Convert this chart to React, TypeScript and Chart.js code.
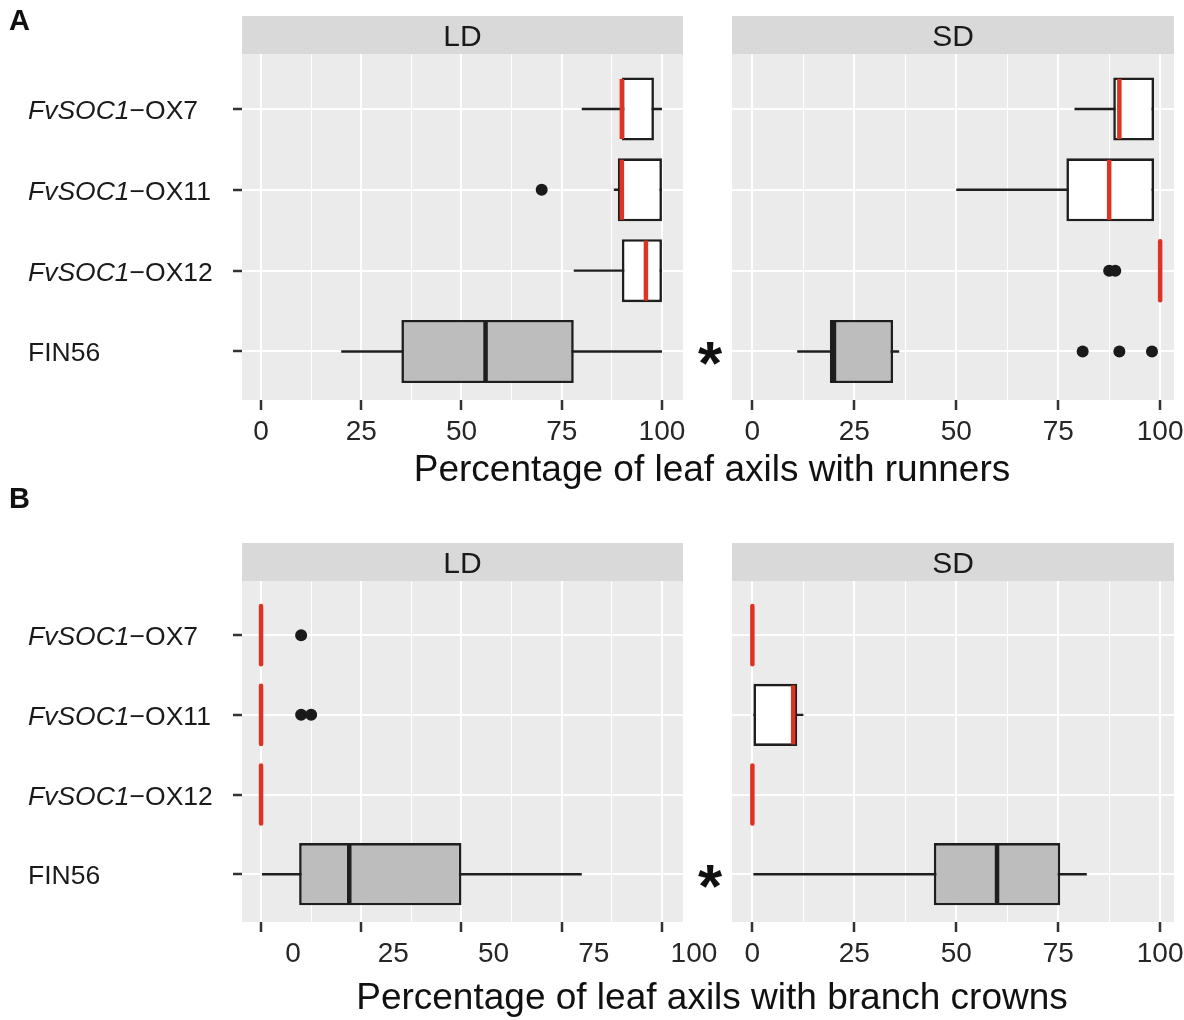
import React, { useEffect, useRef } from 'react';
import { Chart, registerables } from 'chart.js';

Chart.register(...registerables);

// ---------------- data ----------------
const categories = ['FvSOC1-OX7', 'FvSOC1-OX11', 'FvSOC1-OX12', 'FIN56'];
const isTransgenic = [true, true, true, false];
const xTickValues = [0, 25, 50, 75, 100];
const xMinorTickValues = [12.5, 37.5, 62.5, 87.5];
const panelLetters = ['A', 'B'];
const axisTitles = [
  'Percentage of leaf axils with runners',
  'Percentage of leaf axils with branch crowns',
];
const significanceMarks = ['', '', '', '*'];

// Runners, LD
const runnersLDMin = [80, 88, 78, 20];
const runnersLDQ1 = [90, 89, 90, 35];
const runnersLDMedian = [90, 90, 96, 56];
const runnersLDQ3 = [98, 100, 100, 78];
const runnersLDMax = [100, 100, 100, 100];
const runnersLDOutliers = [[], [70], [], []];
// Runners, SD
const runnersSDMin = [79, 50, 100, 11];
const runnersSDQ1 = [88.5, 77, 100, 19];
const runnersSDMedian = [90, 87.5, 100, 20];
const runnersSDQ3 = [98.5, 98.5, 100, 34.5];
const runnersSDMax = [98.5, 98.5, 100, 36];
const runnersSDOutliers = [[], [], [87.5, 89], [81, 90, 98]];
// Branch crowns, LD
const crownsLDMin = [0, 0, 0, 0];
const crownsLDQ1 = [0, 0, 0, 9.5];
const crownsLDMedian = [0, 0, 0, 22];
const crownsLDQ3 = [0, 0, 0, 50];
const crownsLDMax = [0, 0, 0, 80];
const crownsLDOutliers = [[10], [10, 12.5], [], []];
// Branch crowns, SD
const crownsSDMin = [0, 0, 0, 0];
const crownsSDQ1 = [0, 0, 0, 44.5];
const crownsSDMedian = [0, 10, 0, 60];
const crownsSDQ3 = [0, 11, 0, 75.5];
const crownsSDMax = [0, 12.5, 0, 82];
const crownsSDOutliers = [[], [], [], []];

// ---------------- layout / style ----------------
const W = 1184;
const H = 1020;
const FONT = '"Liberation Sans", Arial, Helvetica, sans-serif';
const FACET_X: Record<string, [number, number]> = { LD: [242, 683], SD: [732, 1174] };
const X_RANGE: Record<string, [number, number]> = { LD: [-4.75, 105.25], SD: [-5, 103.4] };
const ROWS = [
  { stripTop: 16, top: 54, bottom: 400, letterY: 30, titleY: 481 },
  { stripTop: 543, top: 581, bottom: 922, letterY: 508, titleY: 1009 },
];
const TITLE_X = 712;
const BOX_WIDTH = 0.78;
const X_AXIS_H = 60;
const allXTicks = [...xTickValues, ...xMinorTickValues].sort((a, b) => a - b);
const isMajor = (v: any) => xTickValues.includes(v);

type Panel = {
  row: number;
  facet: 'LD' | 'SD';
  min: number[];
  q1: number[];
  median: number[];
  q3: number[];
  max: number[];
  outliers: number[][];
  labelOffset: number;
};

const PANELS: Panel[] = [
  { row: 0, facet: 'LD', min: runnersLDMin, q1: runnersLDQ1, median: runnersLDMedian, q3: runnersLDQ3, max: runnersLDMax, outliers: runnersLDOutliers, labelOffset: 0 },
  { row: 0, facet: 'SD', min: runnersSDMin, q1: runnersSDQ1, median: runnersSDMedian, q3: runnersSDQ3, max: runnersSDMax, outliers: runnersSDOutliers, labelOffset: 0 },
  { row: 1, facet: 'LD', min: crownsLDMin, q1: crownsLDQ1, median: crownsLDMedian, q3: crownsLDQ3, max: crownsLDMax, outliers: crownsLDOutliers, labelOffset: 32 },
  { row: 1, facet: 'SD', min: crownsSDMin, q1: crownsSDQ1, median: crownsSDMedian, q3: crownsSDQ3, max: crownsSDMax, outliers: crownsSDOutliers, labelOffset: 0 },
];

function buildConfig(p: Panel): any {
  const r = ROWS[p.row];
  const [left, right] = FACET_X[p.facet];
  const isLD = p.facet === 'LD';
  const yAxisW = isLD ? 12 : 0;
  const rowIdx = categories.map((_, i) => i);

  const panelPlugin = {
    id: 'ggPanel',
    beforeDraw(chart: any) {
      const { ctx, chartArea: a } = chart;
      ctx.save();
      ctx.fillStyle = '#EBEBEB';
      ctx.fillRect(a.left, a.top, a.right - a.left, a.bottom - a.top);
      ctx.restore();
    },
    afterDatasetsDraw(chart: any) {
      const { ctx, scales } = chart;
      const x = scales.x;
      const y = scales.y;
      const unit = Math.abs(y.getPixelForValue(1) - y.getPixelForValue(0));
      const half = (unit * BOX_WIDTH) / 2;
      rowIdx.forEach((i) => {
        const px = x.getPixelForValue(p.median[i]);
        const py = y.getPixelForValue(i);
        const collapsed = p.q1[i] === p.q3[i];
        ctx.save();
        ctx.strokeStyle = isTransgenic[i] ? '#DD3322' : '#1E1E1E';
        ctx.lineWidth = 4.5;
        ctx.lineCap = collapsed ? 'round' : 'butt';
        const inset = collapsed ? 2 : 1.5;
        ctx.beginPath();
        ctx.moveTo(px, py - half + inset);
        ctx.lineTo(px, py + half - inset);
        ctx.stroke();
        ctx.restore();
      });
    },
    afterDraw(chart: any) {
      const { ctx, chartArea: a, scales } = chart;
      const y = scales.y;
      ctx.save();
      // facet strip
      ctx.fillStyle = '#D9D9D9';
      ctx.fillRect(a.left, r.stripTop, a.right - a.left, a.top - r.stripTop);
      ctx.fillStyle = '#1A1A1A';
      ctx.font = `30px ${FONT}`;
      ctx.textAlign = 'center';
      ctx.textBaseline = 'alphabetic';
      ctx.fillText(p.facet, (a.left + a.right) / 2, (r.stripTop + a.top) / 2 + 11);

      if (isLD) {
        // category labels (italic gene name)
        ctx.fillStyle = '#1A1A1A';
        ctx.textAlign = 'left';
        ctx.textBaseline = 'alphabetic';
        categories.forEach((lab, i) => {
          const yy = y.getPixelForValue(i) + 10;
          let xx = 28;
          const m = lab.match(/^(FvSOC1)-(.*)$/);
          if (m) {
            ctx.font = `italic 26.5px ${FONT}`;
            ctx.fillText(m[1], xx, yy);
            xx += ctx.measureText(m[1]).width;
            ctx.font = `26.5px ${FONT}`;
            ctx.fillText('\u2212' + m[2], xx, yy);
          } else {
            ctx.font = `26.5px ${FONT}`;
            ctx.fillText(lab, xx, yy);
          }
        });
        // x axis title, spanning both facets
        ctx.font = `37px ${FONT}`;
        ctx.textAlign = 'center';
        ctx.fillStyle = '#111';
        ctx.fillText(axisTitles[p.row], TITLE_X, r.titleY);
        // panel letter
        ctx.font = `bold 29px ${FONT}`;
        ctx.textAlign = 'left';
        ctx.fillText(panelLetters[p.row], 9, r.letterY);
      } else {
        // significance marks
        ctx.font = `bold 62px ${FONT}`;
        ctx.textAlign = 'center';
        ctx.fillStyle = '#111';
        significanceMarks.forEach((mk, i) => {
          if (!mk) return;
          ctx.fillText(mk, a.left - 22, y.getPixelForValue(i) + 33);
        });
      }
      ctx.restore();
    },
  };

  return {
    type: 'bar',
    data: {
      datasets: [
        {
          label: 'box',
          data: rowIdx.map((i) => ({ x: [p.q1[i], p.q3[i]], y: i })),
          backgroundColor: rowIdx.map((i) => (isTransgenic[i] ? '#FFFFFF' : '#BDBDBD')),
          borderColor: '#1E1E1E',
          borderWidth: 2.6,
          borderSkipped: false,
          grouped: false,
          barPercentage: BOX_WIDTH,
          categoryPercentage: 1,
        },
        {
          label: 'whisker',
          data: rowIdx.map((i) => ({ x: [p.min[i], p.max[i]], y: i })),
          backgroundColor: '#1E1E1E',
          borderWidth: 0,
          grouped: false,
          maxBarThickness: 2.4,
        },
        {
          type: 'scatter',
          label: 'outliers',
          data: p.outliers.flatMap((vals, i) => vals.map((v) => ({ x: v, y: i }))),
          pointRadius: 6,
          pointBackgroundColor: '#1A1A1A',
          pointBorderWidth: 0,
          showLine: false,
        },
      ],
    },
    options: {
      animation: false,
      responsive: false,
      devicePixelRatio: 1,
      indexAxis: 'y',
      events: [],
      layout: {
        padding: { left: left - yAxisW, right: W - right, top: r.top, bottom: H - r.bottom - X_AXIS_H },
      },
      plugins: { legend: { display: false }, tooltip: { enabled: false }, title: { display: false } },
      scales: {
        x: {
          type: 'linear',
          position: 'bottom',
          offset: false,
          min: X_RANGE[p.facet][0],
          max: X_RANGE[p.facet][1],
          afterBuildTicks: (s: any) => {
            s.ticks = allXTicks.map((v) => ({ value: v }));
          },
          afterFit: (s: any) => {
            s.height = X_AXIS_H;
            s.paddingLeft = 0;
            s.paddingRight = 0;
          },
          border: { display: false },
          grid: {
            offset: false,
            color: '#FFFFFF',
            lineWidth: (c: any) => (isMajor(c.tick && c.tick.value) ? 2 : 1),
            drawTicks: true,
            tickLength: 10,
            tickWidth: 2.5,
            tickColor: (c: any) => (isMajor(c.tick && c.tick.value) ? '#333333' : 'rgba(0,0,0,0)'),
          },
          ticks: {
            autoSkip: false,
            maxRotation: 0,
            minRotation: 0,
            padding: 5,
            labelOffset: p.labelOffset,
            color: '#262626',
            font: { family: FONT, size: 28 },
            callback: (v: any) => (isMajor(v) ? String(v) : ''),
          },
        },
        y: {
          type: 'linear',
          position: 'left',
          offset: false,
          min: -0.68,
          max: 3.6,
          reverse: true,
          afterBuildTicks: (s: any) => {
            s.ticks = rowIdx.map((v) => ({ value: v }));
          },
          afterFit: (s: any) => {
            s.width = yAxisW;
            s.paddingTop = 0;
            s.paddingBottom = 0;
          },
          border: { display: false },
          grid: {
            offset: false,
            color: '#FFFFFF',
            lineWidth: 2,
            drawTicks: isLD,
            tickLength: 9,
            tickWidth: 2.5,
            tickColor: '#333333',
          },
          ticks: { display: false },
        },
      },
    },
    plugins: [panelPlugin],
  };
}

function FacetChart({ panel }: { panel: Panel }) {
  const ref = useRef<HTMLCanvasElement | null>(null);
  useEffect(() => {
    if (!ref.current) return;
    const chart = new Chart(ref.current, buildConfig(panel));
    return () => chart.destroy();
  }, [panel]);
  return (
    <canvas
      ref={ref}
      width={W}
      height={H}
      style={{ position: 'absolute', left: 0, top: 0, width: W, height: H }}
    />
  );
}

export default function App() {
  return (
    <div
      style={{
        position: 'absolute',
        left: 0,
        top: 0,
        width: W,
        height: H,
        background: '#FFFFFF',
        overflow: 'hidden',
      }}
    >
      {PANELS.map((p, i) => (
        <FacetChart key={i} panel={p} />
      ))}
    </div>
  );
}
